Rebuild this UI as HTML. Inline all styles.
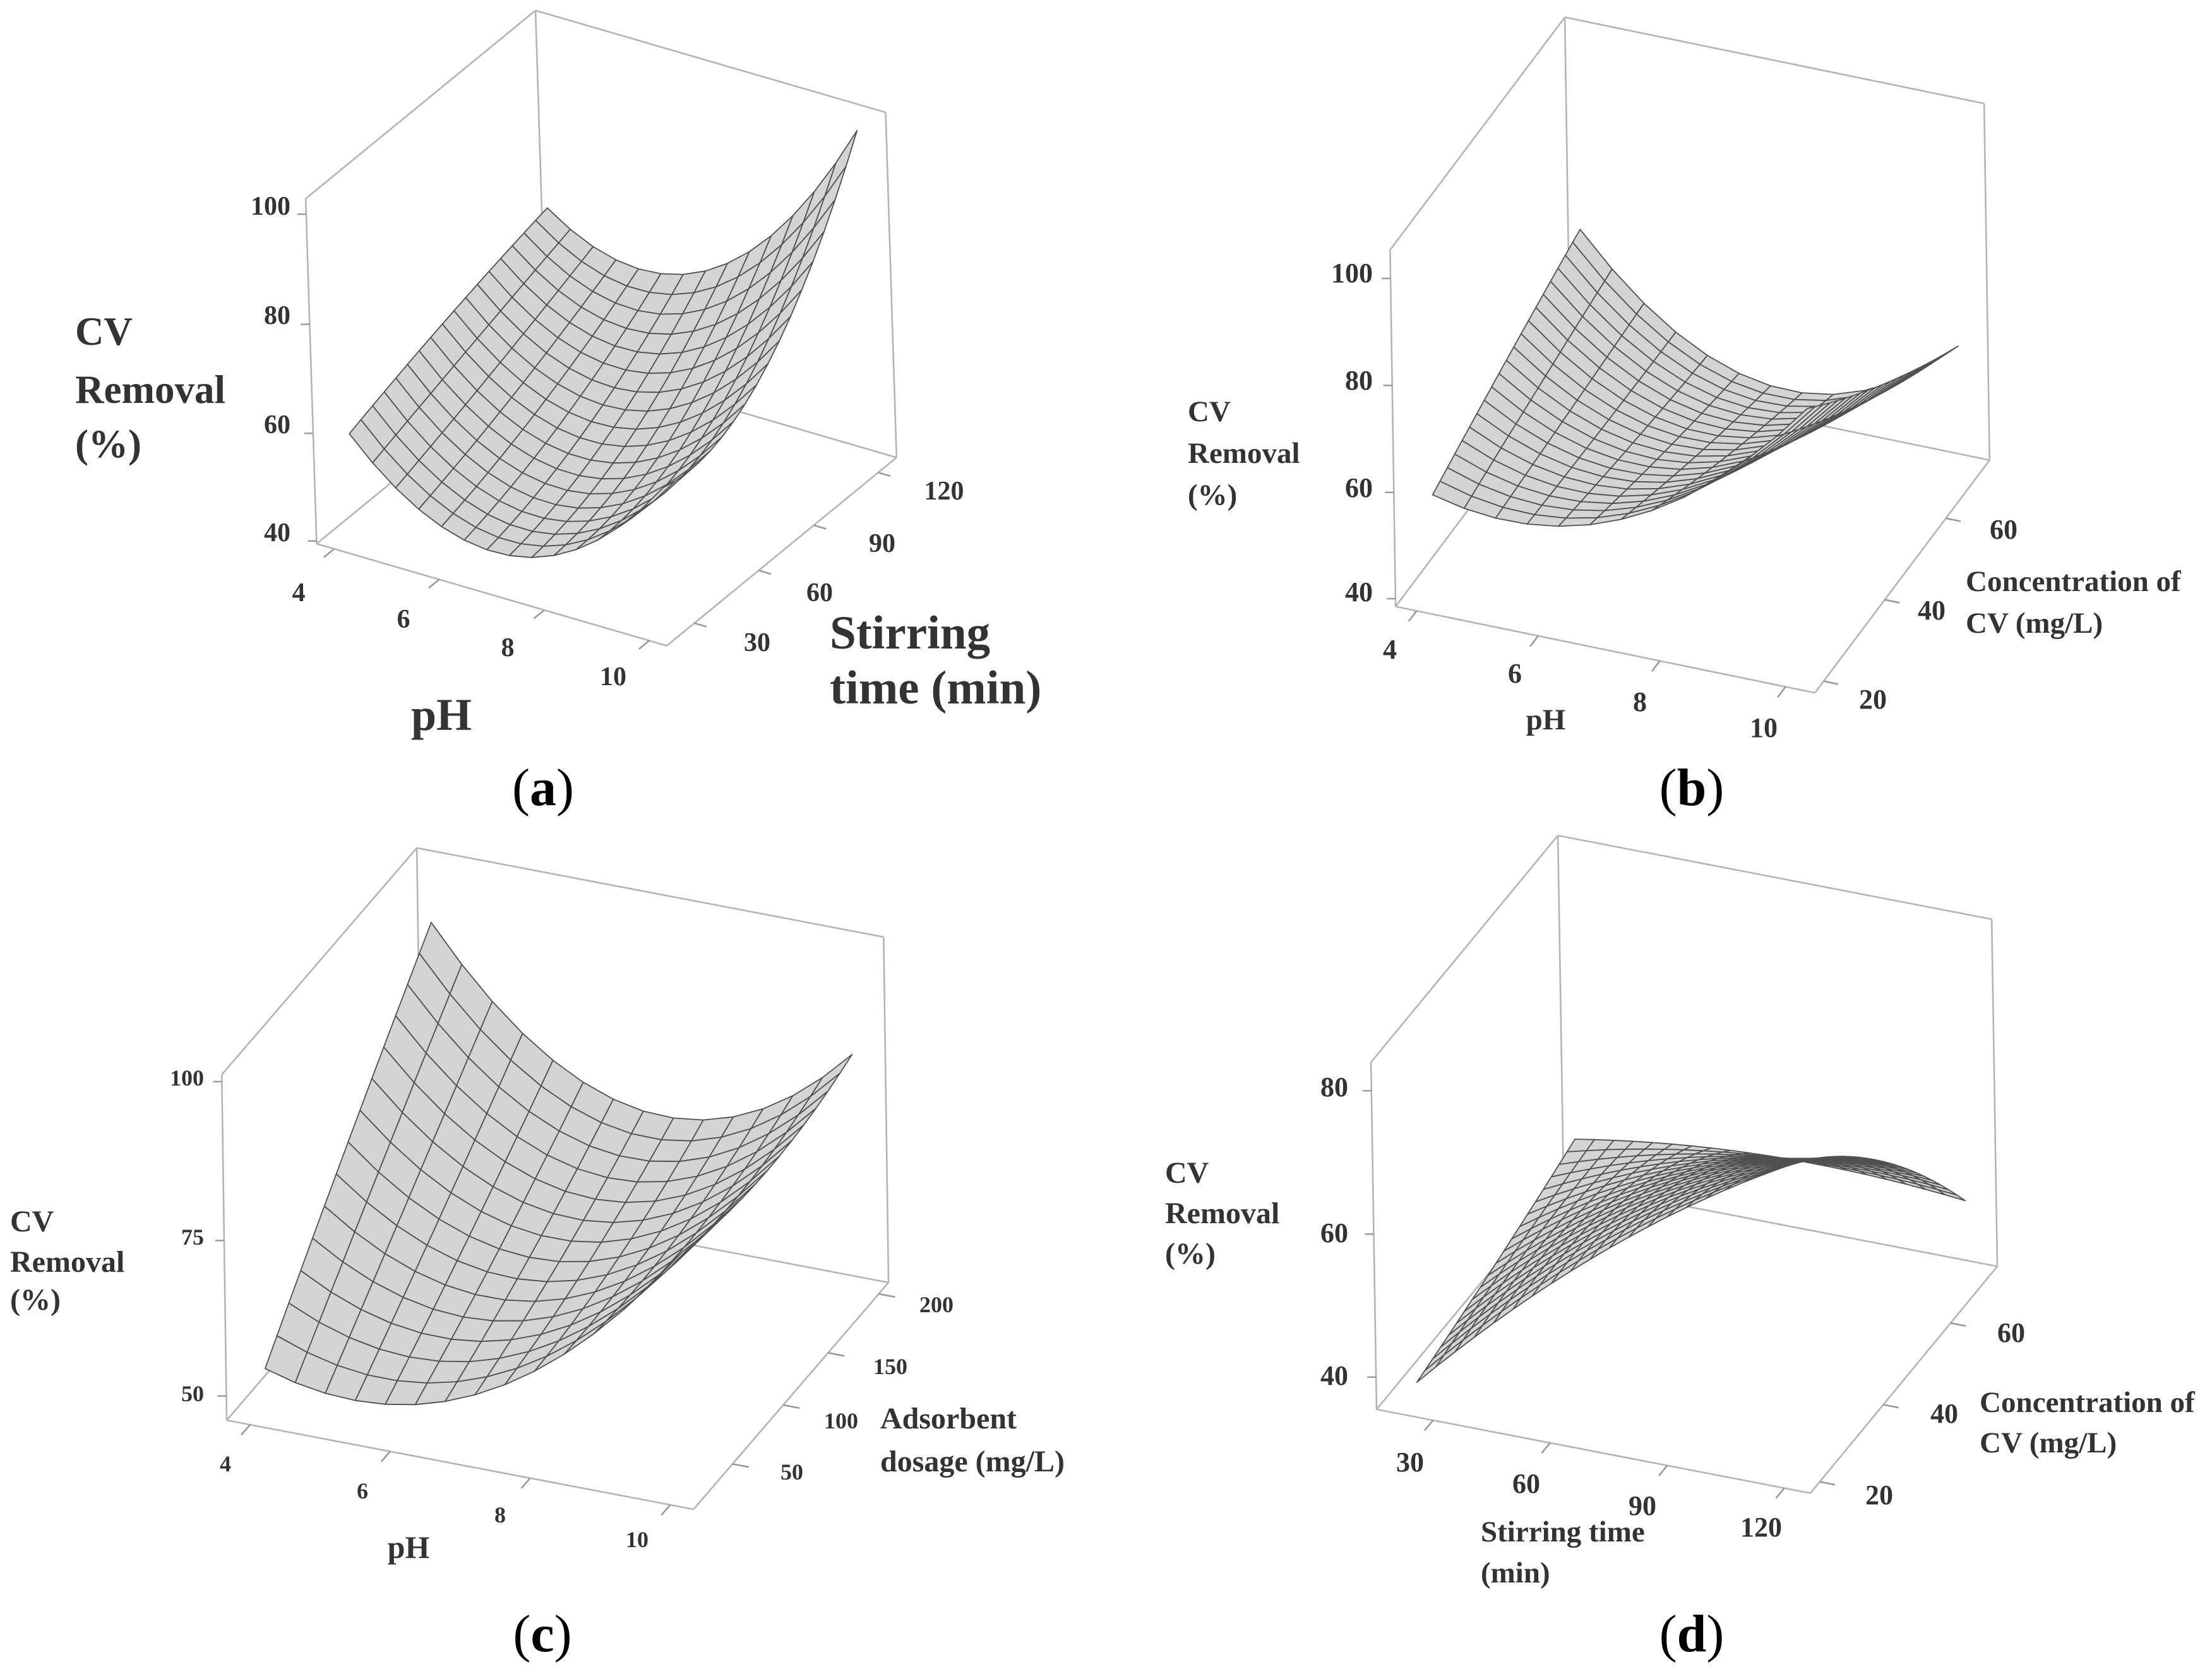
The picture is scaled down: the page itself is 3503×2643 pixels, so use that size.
<!DOCTYPE html>
<html><head><meta charset="utf-8"><style>
html,body{margin:0;padding:0;background:#fff}
svg{display:block}
text{font-family:"Liberation Serif",serif;fill:#333;font-weight:bold}
.cap{font-weight:normal;fill:#000}
</style></head><body>
<svg id="s" xmlns="http://www.w3.org/2000/svg" width="3503" height="2643" viewBox="0 0 3503 2643">
<rect width="3503" height="2643" fill="#fff"/>
<g id="g"></g>
<!-- Panel a -->
<g font-size="42" text-anchor="end">
<text x="460" y="340">100</text><text x="460" y="513">80</text><text x="460" y="686">60</text><text x="460" y="857">40</text>
</g>
<g font-size="63"><text x="119" y="546">CV</text><text x="119" y="638">Removal</text><text x="119" y="724">(%)</text></g>
<g font-size="42" text-anchor="middle">
<text x="473" y="952">4</text><text x="639" y="994">6</text><text x="804" y="1039">8</text><text x="971" y="1085">10</text>
<text x="1199" y="1031">30</text><text x="1298" y="952">60</text><text x="1397" y="874">90</text><text x="1495" y="791">120</text>
</g>
<g font-size="75"><text x="1314" y="1027">Stirring</text><text x="1314" y="1114">time (min)</text></g>
<text x="699" y="1156" font-size="72" text-anchor="middle">pH</text>
<text class="cap" x="860" y="1275" font-size="84" text-anchor="middle">(<tspan font-weight="bold">a</tspan>)</text>
<!-- Panel b -->
<g font-size="44" text-anchor="end">
<text x="2174" y="447">100</text><text x="2174" y="617">80</text><text x="2174" y="787">60</text><text x="2174" y="952">40</text>
</g>
<g font-size="47"><text x="1881" y="667">CV</text><text x="1881" y="733">Removal</text><text x="1881" y="799">(%)</text></g>
<g font-size="44" text-anchor="middle">
<text x="2201" y="1043">4</text><text x="2399" y="1081">6</text><text x="2597" y="1126">8</text><text x="2793" y="1167">10</text>
<text x="2966" y="1122">20</text><text x="3059" y="981">40</text><text x="3173" y="853">60</text>
</g>
<g font-size="47"><text x="3113" y="936">Concentration of</text><text x="3113" y="1002">CV (mg/L)</text></g>
<text x="2448" y="1155" font-size="47" text-anchor="middle">pH</text>
<text class="cap" x="2679" y="1275" font-size="84" text-anchor="middle">(<tspan font-weight="bold">b</tspan>)</text>
<!-- Panel c -->
<g font-size="36" text-anchor="end">
<text x="323" y="1719">100</text><text x="323" y="1971">75</text><text x="323" y="2219">50</text>
</g>
<g font-size="48"><text x="16" y="1950">CV</text><text x="16" y="2014">Removal</text><text x="16" y="2074">(%)</text></g>
<g font-size="36" text-anchor="middle">
<text x="357" y="2330">4</text><text x="574" y="2373">6</text><text x="792" y="2411">8</text><text x="1009" y="2450">10</text>
<text x="1254" y="2343">50</text><text x="1332" y="2262">100</text><text x="1410" y="2176">150</text><text x="1483" y="2078">200</text>
</g>
<g font-size="48"><text x="1394" y="2262">Adsorbent</text><text x="1394" y="2330">dosage (mg/L)</text></g>
<text x="647" y="2467" font-size="50" text-anchor="middle">pH</text>
<text class="cap" x="859" y="2615" font-size="84" text-anchor="middle">(<tspan font-weight="bold">c</tspan>)</text>
<!-- Panel d -->
<g font-size="44" text-anchor="end">
<text x="2135" y="1736">80</text><text x="2135" y="1967">60</text><text x="2135" y="2193">40</text>
</g>
<g font-size="48"><text x="1845" y="1873">CV</text><text x="1845" y="1937">Removal</text><text x="1845" y="2001">(%)</text></g>
<g font-size="44" text-anchor="middle">
<text x="2233" y="2330">30</text><text x="2417" y="2364">60</text><text x="2601" y="2399">90</text><text x="2789" y="2433">120</text>
<text x="2976" y="2382">20</text><text x="3079" y="2253">40</text><text x="3185" y="2125">60</text>
</g>
<g font-size="47"><text x="3135" y="2236">Concentration of</text><text x="3135" y="2300">CV (mg/L)</text></g>
<g font-size="47"><text x="2345" y="2441">Stirring time</text><text x="2345" y="2506">(min)</text></g>
<text class="cap" x="2679" y="2615" font-size="84" text-anchor="middle">(<tspan font-weight="bold">d</tspan>)</text>
</svg>
<script>
(function(){
var NS='http://www.w3.org/2000/svg';
var g=document.getElementById('g');
function add(tag,a){var e=document.createElementNS(NS,tag);for(var k in a)e.setAttribute(k,a[k]);g.appendChild(e);return e;}
function lag(t,a,b,c){return a*2*(t-.5)*(t-1)+b*(-4)*t*(t-1)+c*2*t*(t-.5);}
var panels=[
{off:[0,0],s:[1.083,.828],O:[463,1040],X:[512,195],Y:[336,-360],Z:[-16,-660],ur:[.05,.95],vr:[.08,.95],
 H:[[.29,.07,.40],[.39,.18,.49],[.47,.42,.96]],nu:14,nv:17,zt:[.008,.32,.636,.955],ut:[.05,.35,.65,.95],vt:[.12,.40,.64,.92]},
{off:[1800,0],s:[1.085,.828],O:[378,1160],X:[612,165],Y:[255,-445],Z:[-8,-682],ur:[.05,.95],vr:[.1,.95],
 H:[[.26,.30,.72],[.36,.2,.51],[.45,.12,.34]],nu:12,nv:20,zt:[.022,.32,.62,.92],ut:[.05,.34,.63,.93],vt:[.05,.40,.75]},
{off:[0,1300],s:[1.115,.855],O:[322,1110],X:[663,165],Y:[277,-420],Z:[-7,-640],ur:[.05,.95],vr:[.08,.95],
 H:[[.11,.15,.68],[.48,.25,.63],[.83,.40,.68]],nu:14,nv:14,zt:[.07,.52,.98],ut:[.05,.35,.65,.95],vt:[.2,.46,.69,.95]},
{off:[1750,1300],s:[1.117,.855],O:[385,1090],X:[615,155],Y:[265,-420],Z:[-8,-643],ur:[.05,.95],vr:[.1,.95],
 H:[[.025,.52,.88],[.09,.45,.6],[.17,.23,.21]],nu:20,nv:20,zt:[.093,.505,.918],ut:[.13,.40,.67,.94],vt:[.05,.39,.75]}
];
panels.forEach(function(p){
 function P(u,v,h){return [p.off[0]+p.s[0]*(p.O[0]+u*p.X[0]+v*p.Y[0]+h*p.Z[0]),
                           p.off[1]+p.s[1]*(p.O[1]+u*p.X[1]+v*p.Y[1]+h*p.Z[1])];}
 function L(a,b,c){var A=P(a[0],a[1],a[2]),B=P(b[0],b[1],b[2]);
   add('line',{x1:A[0].toFixed(1),y1:A[1].toFixed(1),x2:B[0].toFixed(1),y2:B[1].toFixed(1),stroke:c||'#b4b4b4','stroke-width':2.6});}
 // box
 L([0,0,0],[1,0,0]);L([0,0,0],[0,1,0]);L([0,1,0],[1,1,0]);L([1,0,0],[1,1,0]);
 L([0,0,0],[0,0,1]);L([0,1,0],[0,1,1]);L([1,1,0],[1,1,1]);L([0,0,1],[0,1,1]);L([0,1,1],[1,1,1]);
 // ticks
 p.zt.forEach(function(h){var A=P(0,0,h);add('line',{x1:A[0]-14,y1:A[1],x2:A[0],y2:A[1],stroke:'#999','stroke-width':2.4});});
 p.ut.forEach(function(u){L([u,0,0],[u,-0.045,0],'#999');});
 p.vt.forEach(function(v){L([1,v,0],[1.035,v,0],'#999');});
 // surface
 function hf(uu,vv){var r=p.H.map(function(a){return lag(uu,a[0],a[1],a[2]);});return lag(vv,r[0],r[1],r[2]);}
 var r1=[p.X[0],p.Y[0],p.Z[0]],r2=[p.X[1],p.Y[1],p.Z[1]];
 var d=[r1[1]*r2[2]-r1[2]*r2[1],r1[2]*r2[0]-r1[0]*r2[2],r1[0]*r2[1]-r1[1]*r2[0]];
 if(d[1]<0)d=d.map(function(x){return -x;});
 var quads=[];
 for(var i=0;i<p.nu;i++)for(var j=0;j<p.nv;j++){
   var pts=[[i,j],[i+1,j],[i+1,j+1],[i,j+1]].map(function(q){
     var uu=q[0]/p.nu,vv=q[1]/p.nv;
     var u=p.ur[0]+uu*(p.ur[1]-p.ur[0]),v=p.vr[0]+vv*(p.vr[1]-p.vr[0]);
     return [u,v,hf(uu,vv)];});
   var c=[0,0,0];pts.forEach(function(q){c[0]+=q[0]/4;c[1]+=q[1]/4;c[2]+=q[2]/4;});
   quads.push({f:d[0]*c[0]+d[1]*c[1]+d[2]*c[2],pts:pts});
 }
 quads.sort(function(a,b){return b.f-a.f;});
 quads.forEach(function(q){
   var s=q.pts.map(function(t){var A=P(t[0],t[1],t[2]);return A[0].toFixed(1)+','+A[1].toFixed(1);}).join(' ');
   add('polygon',{points:s,fill:'#d4d4d4',stroke:'#505050','stroke-width':1.8,'stroke-linejoin':'round'});
 });
});
})();
</script>
</body></html>
